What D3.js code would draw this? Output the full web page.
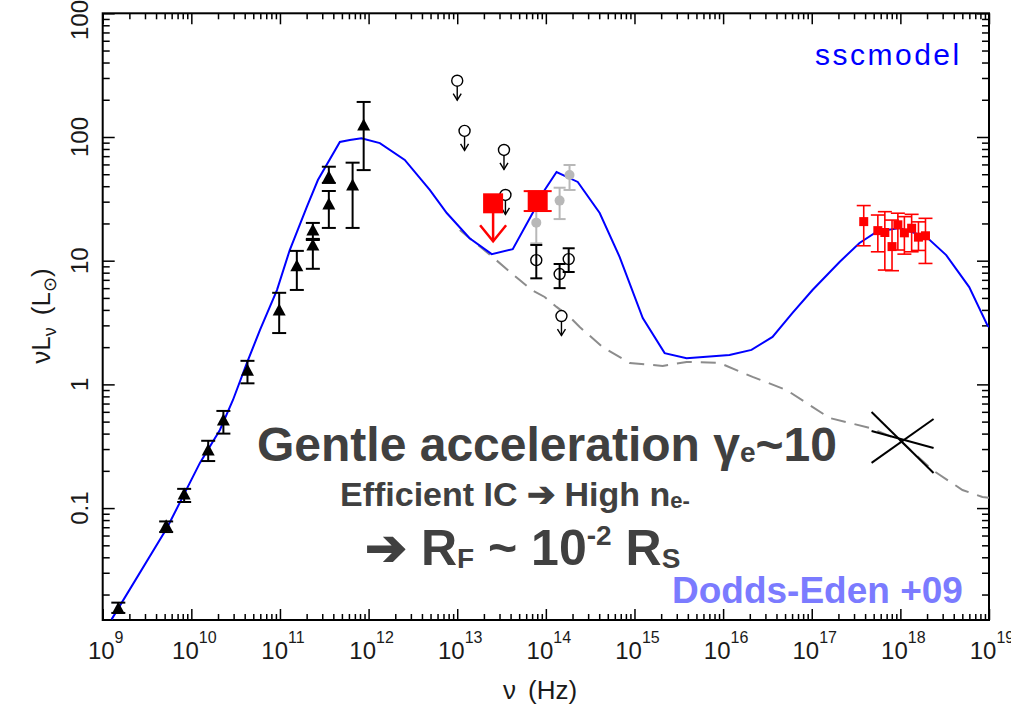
<!DOCTYPE html>
<html><head><meta charset="utf-8">
<script src="https://cdn.jsdelivr.net/npm/d3@7"></script>
<style>
html,body{margin:0;padding:0;background:#fff;}
svg{display:block;}
</style></head><body>
<svg id="chart" width="1011" height="710"></svg>
<script>
// ---------- data: Sgr A* flare SED (nu in Hz, nuL_nu in L_sun) ----------
// radio / sub-mm detections (filled triangles)
const radioNu = [1.5e9, 5.2e9, 8.3e9, 1.55e10, 2.3e10, 4.3e10, 9.8e10, 1.55e11, 2.35e11, 2.35e11, 3.56e11, 3.56e11, 6.6e11, 8.8e11];
const radioL  = [0.0155, 0.072, 0.13, 0.295, 0.515, 1.3, 4.0, 9.1, 13.4, 17.7, 28.7, 47.6, 41, 125];
const radioLo = [0.0142, 0.064, 0.112, 0.24, 0.40, 1.02, 2.6, 5.8, 8.6, 15.0, 18.4, 42.5, 18.4, 54];
const radioHi = [0.0172, 0.078, 0.143, 0.35, 0.61, 1.55, 5.5, 12.0, 14.7, 20.2, 36.6, 57.5, 62, 192];

// mid-IR upper limits (open circles with arrows)
const limNu = [1.0e13, 1.21e13, 3.37e13, 3.5e13, 1.5e14];
const limL  = [285, 112, 78.6, 34, 3.57];

// NIR quiescent points (open circles)
const nirQNu = [7.8e13, 1.43e14, 1.81e14];
const nirQL  = [10.1, 7.8, 10.3];
const nirQLo = [7.2, 6.0, 8.1];
const nirQHi = [13.4, 9.4, 12.6];

// NIR flare points (grey dots)
const nirFNu = [7.8e13, 1.43e14, 1.85e14];
const nirFL  = [20.3, 30.6, 49.3];
const nirFLo = [13.8, 21.7, 37.3];
const nirFHi = [28.2, 38.9, 59.4];

// simultaneous flare: mid-IR limit and NIR flux (big red squares)
const flareLimNu = [2.54e13];
const flareLimL  = [29.1];
const flareNu = [8.09e13];
const flareL  = [30.7];
const flareLo = [25.2];
const flareHi = [36.5];

// X-ray flare spectrum (small red squares)
const xrayNu = [3.86e17, 5.57e17, 6.68e17, 8.05e17, 9.37e17, 1.11e18, 1.34e18, 1.60e18, 1.92e18];
const xrayL  = [20.7, 17.5, 16.9, 13.0, 19.5, 16.8, 18.3, 15.5, 15.9];
const xrayLo = [13.2, 11.8, 8.4, 8.3, 12.2, 11.3, 11.8, 12.1, 9.5];
const xrayHi = [27.9, 23.4, 24.9, 21.3, 24.2, 22.7, 23.7, 20.6, 22.0];

// quiescent X-ray power-law bow-tie
const bowNu      = [4.73e17, 2.37e18];
const bowSteep   = [0.598, 0.192];
const bowRise    = [0.232, 0.525];
const bowShallow = [0.42, 0.306];

// SSC model (blue)
const modelNu = [1.26e9, 5.31e9, 1.25e10, 2.10e10, 2.95e10, 4.24e10, 5.94e10, 9.25e10, 1.29e11, 2.01e11, 2.68e11, 4.74e11, 6.14e11, 8.3e11,
  1.34e12, 2.56e12, 4.90e12, 7.62e12, 1.38e13, 2.45e13, 4.23e13, 7.10e13, 9.70e13, 1.32e14, 2.29e14, 4.05e14, 6.81e14,
  1.24e15, 2.19e15, 3.87e15, 1.18e16, 2.09e16, 3.61e16, 6.07e16, 1.02e17, 2.06e17, 3.46e17, 5.37e17, 9.77e17,
  1.96e18, 3.29e18, 5.98e18, 9.55e18, 1e19];
const modelL = [0.0126, 0.069, 0.232, 0.428, 0.748, 1.49, 2.75, 5.79, 12.2, 27.2, 44.9, 91.2, 94.6, 97.7,
  89.3, 65.2, 37.3, 24.3, 15.2, 11.3, 12.4, 24.3, 37.3, 52.1, 43.3, 24.3, 10.7,
  3.44, 1.79, 1.63, 1.73, 1.90, 2.42, 3.78, 5.79, 9.77, 13.9, 17.1, 18.4,
  15.6, 11.1, 6.12, 3.02, 2.91];

// synchrotron-only component (grey dashed)
const syncNu = [1.07e13, 1.38e13, 2.51e13, 3.71e13, 5.07e13, 6.92e13, 9.70e13, 1.32e14, 1.86e14, 2.41e14, 4.38e14, 8.83e14,
  2.08e15, 3.87e15, 9.12e15, 2.15e16, 5.20e16, 1.59e17, 4.49e17, 9.77e17, 2.30e18, 5.02e18, 8.43e18, 1e19];
const syncL = [17.7, 15.2, 10.7, 8.41, 6.98, 5.79, 5.09, 4.23, 3.51, 2.91, 2.00, 1.49,
  1.41, 1.52, 1.49, 1.15, 0.90, 0.535, 0.445, 0.356, 0.203, 0.140, 0.123, 0.121];

// axis ticks
const xTickExp = [9, 10, 11, 12, 13, 14, 15, 16, 17, 18, 19];
const yTickVals = [0.1, 1, 10, 100, 1000];
const yTickLabels = ["0.1", "1", "10", "100", "1000"];

// ---------- drawing ----------
const svg = d3.select("#chart");
const pL = 102.7, pR = 989, pT = 13.3, pB = 620;
const x = d3.scaleLog().domain([1e9, 1e19]).range([pL, pR]);
const y = d3.scaleLog().domain([0.01245, 1000]).range([pB, pT]);

svg.append("defs").append("clipPath").attr("id", "plotclip")
  .append("rect").attr("x", pL).attr("y", pT).attr("width", pR - pL).attr("height", pB - pT);

// axes with inward ticks on all four sides
const xMajor = xTickExp.map(e => Math.pow(10, e));
const xMinor = [];
for (let e = 9; e < 19; e++) for (let k = 2; k <= 9; k++) xMinor.push(k * Math.pow(10, e));
const yMinor = [];
for (let e = -2; e < 3; e++) for (let k = 2; k <= 9; k++) { const v = k * Math.pow(10, e); if (v >= 0.01245) yMinor.push(v); }

function ticks(axis, vals, size) {
  return g => {
    g.call(axis.tickValues(vals).tickSize(size).tickSizeOuter(0).tickFormat(""));
    g.select(".domain").remove();
    g.selectAll(".tick line").attr("stroke", "#000").attr("stroke-width", 1.5);
  };
}
svg.append("g").attr("transform", `translate(0,${pB})`).call(ticks(d3.axisBottom(x), xMajor, -11));
svg.append("g").attr("transform", `translate(0,${pB})`).call(ticks(d3.axisBottom(x), xMinor, -6));
svg.append("g").attr("transform", `translate(0,${pT})`).call(ticks(d3.axisTop(x), xMajor, -11));
svg.append("g").attr("transform", `translate(0,${pT})`).call(ticks(d3.axisTop(x), xMinor, -6));
svg.append("g").attr("transform", `translate(${pL},0)`).call(ticks(d3.axisLeft(y), yTickVals, -12));
svg.append("g").attr("transform", `translate(${pL},0)`).call(ticks(d3.axisLeft(y), yMinor, -7));
svg.append("g").attr("transform", `translate(${pR},0)`).call(ticks(d3.axisRight(y), yTickVals, -12));
svg.append("g").attr("transform", `translate(${pR},0)`).call(ticks(d3.axisRight(y), yMinor, -7));

svg.append("rect").attr("x", pL).attr("y", pT).attr("width", pR - pL).attr("height", pB - pT)
  .attr("fill", "none").attr("stroke", "#000").attr("stroke-width", 2);

// tick labels
const tickFont = "'Liberation Sans', Arial, sans-serif";
const xl = svg.append("g").attr("font-family", tickFont).attr("fill", "#1a1a1a");
xTickExp.forEach(e => {
  const t = xl.append("text").attr("x", x(Math.pow(10, e)) + 3).attr("y", 659).attr("text-anchor", "middle");
  t.append("tspan").attr("font-size", 24).text("10");
  t.append("tspan").attr("font-size", 16).attr("dy", -16).text(e);
});
const yl = svg.append("g").attr("font-family", tickFont).attr("fill", "#1a1a1a").attr("font-size", 24);
yTickVals.forEach((v, i) => {
  yl.append("text").attr("transform", `translate(88,${y(v)}) rotate(-90)`).attr("text-anchor", "middle").text(yTickLabels[i]);
});

// axis titles
const xt = svg.append("text").attr("x", 503).attr("y", 699).attr("font-family", tickFont).attr("font-size", 26).attr("fill", "#1a1a1a");
xt.append("tspan").text("ν");
xt.append("tspan").attr("dx", 12).text("(Hz)");

const yt = svg.append("text").attr("transform", "translate(50,316) rotate(-90)").attr("text-anchor", "middle")
  .attr("font-family", tickFont).attr("font-size", 26).attr("fill", "#1a1a1a");
yt.append("tspan").text("νL");
yt.append("tspan").attr("font-size", 18).attr("dy", 6).text("ν");
yt.append("tspan").attr("dy", -6).attr("dx", 12).text("(L");
yt.append("tspan").attr("font-size", 18).attr("dy", 6).text("⊙");
yt.append("tspan").attr("dy", -6).text(")");

// model curves
const plot = svg.append("g").attr("clip-path", "url(#plotclip)");
const line = d3.line().x(d => x(d[0])).y(d => y(d[1]));
plot.append("path").datum(d3.zip(syncNu, syncL)).attr("d", line)
  .attr("fill", "none").attr("stroke", "#8c8c8c").attr("stroke-width", 2).attr("stroke-dasharray", "15,9");
plot.append("path").datum(d3.zip(modelNu, modelL)).attr("d", line)
  .attr("fill", "none").attr("stroke", "#0000ff").attr("stroke-width", 2);

// bow-tie
[bowSteep, bowRise, bowShallow].forEach(arr => {
  svg.append("path").datum(d3.zip(bowNu, arr)).attr("d", line)
    .attr("fill", "none").attr("stroke", "#000").attr("stroke-width", 2);
});

// helper for error bars
function errBars(g, nu, lo, hi, color, cap, w) {
  nu.forEach((n, i) => {
    const cx = x(n), y0 = y(lo[i]), y1 = y(hi[i]);
    g.append("line").attr("x1", cx).attr("x2", cx).attr("y1", y0).attr("y2", y1).attr("stroke", color).attr("stroke-width", w);
    [y0, y1].forEach(yy => g.append("line").attr("x1", cx - cap / 2).attr("x2", cx + cap / 2).attr("y1", yy).attr("y2", yy)
      .attr("stroke", color).attr("stroke-width", w));
  });
}

// radio triangles
const gr = svg.append("g");
errBars(gr, radioNu, radioLo, radioHi, "#000", 14, 2);
gr.selectAll("path.tri").data(d3.zip(radioNu, radioL)).join("path")
  .attr("d", d => { const cx = x(d[0]), cy = y(d[1]); return `M${cx - 6.5},${cy + 5.5}L${cx + 6.5},${cy + 5.5}L${cx},${cy - 6.5}Z`; })
  .attr("fill", "#000");

// NIR flare grey dots
const gg = svg.append("g");
errBars(gg, nirFNu, nirFLo, nirFHi, "#b8b8b8", 12, 2);
gg.selectAll("circle").data(d3.zip(nirFNu, nirFL)).join("circle")
  .attr("cx", d => x(d[0])).attr("cy", d => y(d[1])).attr("r", 5).attr("fill", "#b8b8b8");

// NIR quiescent open circles
const go = svg.append("g");
errBars(go, nirQNu, nirQLo, nirQHi, "#000", 12, 2);
go.selectAll("circle").data(d3.zip(nirQNu, nirQL)).join("circle")
  .attr("cx", d => x(d[0])).attr("cy", d => y(d[1])).attr("r", 5.5).attr("fill", "none").attr("stroke", "#000").attr("stroke-width", 1.4);

// upper limits
const gl = svg.append("g").attr("stroke", "#000").attr("fill", "none").attr("stroke-width", 1.4);
limNu.forEach((n, i) => {
  const cx = x(n), cy = y(limL[i]);
  gl.append("circle").attr("cx", cx).attr("cy", cy).attr("r", 5.5).attr("fill", "#fff");
  gl.append("line").attr("x1", cx).attr("x2", cx).attr("y1", cy + 5.5).attr("y2", cy + 19.5);
  gl.append("path").attr("d", `M${cx - 4},${cy + 13}L${cx},${cy + 19.5}L${cx + 4},${cy + 13}`);
});

// simultaneous flare: red limit with arrow and red NIR point
const gf = svg.append("g");
flareLimNu.forEach((n, i) => {
  const cx = x(n), cy = y(flareLimL[i]);
  gf.append("line").attr("x1", cx).attr("x2", cx).attr("y1", cy).attr("y2", cy + 38).attr("stroke", "#f00").attr("stroke-width", 2.5);
  gf.append("path").attr("d", `M${cx - 13},${cy + 22}L${cx},${cy + 38}L${cx + 13},${cy + 22}`)
    .attr("fill", "none").attr("stroke", "#f00").attr("stroke-width", 2.5);
  gf.append("rect").attr("x", cx - 10).attr("y", cy - 10).attr("width", 20).attr("height", 20).attr("fill", "#f00");
});
errBars(gf, flareNu, flareLo, flareHi, "#f00", 28, 2);
flareNu.forEach((n, i) => {
  const cx = x(n), cy = y(flareL[i]);
  gf.append("rect").attr("x", cx - 10).attr("y", cy - 10).attr("width", 20).attr("height", 20).attr("fill", "#f00");
});

// X-ray flare spectrum
const gx = svg.append("g");
errBars(gx, xrayNu, xrayLo, xrayHi, "#f00", 14, 1.6);
gx.selectAll("rect").data(d3.zip(xrayNu, xrayL)).join("rect")
  .attr("x", d => x(d[0]) - 4.5).attr("y", d => y(d[1]) - 4.5).attr("width", 9).attr("height", 9).attr("fill", "#f00");

// labels
svg.append("text").attr("x", 815).attr("y", 65).attr("font-family", tickFont).attr("font-size", 30)
  .attr("letter-spacing", 2.5).attr("fill", "#0000ff").text("sscmodel");

const boldFont = "'Liberation Sans', Arial, Helvetica, sans-serif";
const a1 = svg.append("text").attr("x", 257).attr("y", 461).attr("font-family", boldFont).attr("font-weight", "bold")
  .attr("font-size", 48).attr("fill", "#404040");
a1.append("tspan").text("Gentle acceleration γ");
a1.append("tspan").attr("font-size", 28).attr("dy", 1).text("e");
a1.append("tspan").attr("dy", -1).text("~10");

const a2 = svg.append("text").attr("x", 340).attr("y", 506).attr("font-family", boldFont).attr("font-weight", "bold")
  .attr("font-size", 34).attr("fill", "#404040");
a2.append("tspan").text("Efficient IC ➔ High n");
a2.append("tspan").attr("font-size", 22).attr("dy", 2).text("e-");

const a3 = svg.append("text").attr("x", 365).attr("y", 565).attr("font-family", boldFont).attr("font-weight", "bold")
  .attr("font-size", 50).attr("fill", "#404040");
a3.append("tspan").text("➔ R");
a3.append("tspan").attr("font-size", 28).attr("dy", 3).text("F");
a3.append("tspan").attr("dy", -3).text(" ~ 10");
a3.append("tspan").attr("font-size", 28).attr("dy", -20).text("-2");
a3.append("tspan").attr("dy", 20).text(" R");
a3.append("tspan").attr("font-size", 28).attr("dy", 3).text("S");

svg.append("text").attr("x", 672).attr("y", 603).attr("font-family", boldFont).attr("font-weight", "bold")
  .attr("font-size", 37).attr("fill", "#7b7bff").text("Dodds-Eden +09");
</script>
</body></html>
